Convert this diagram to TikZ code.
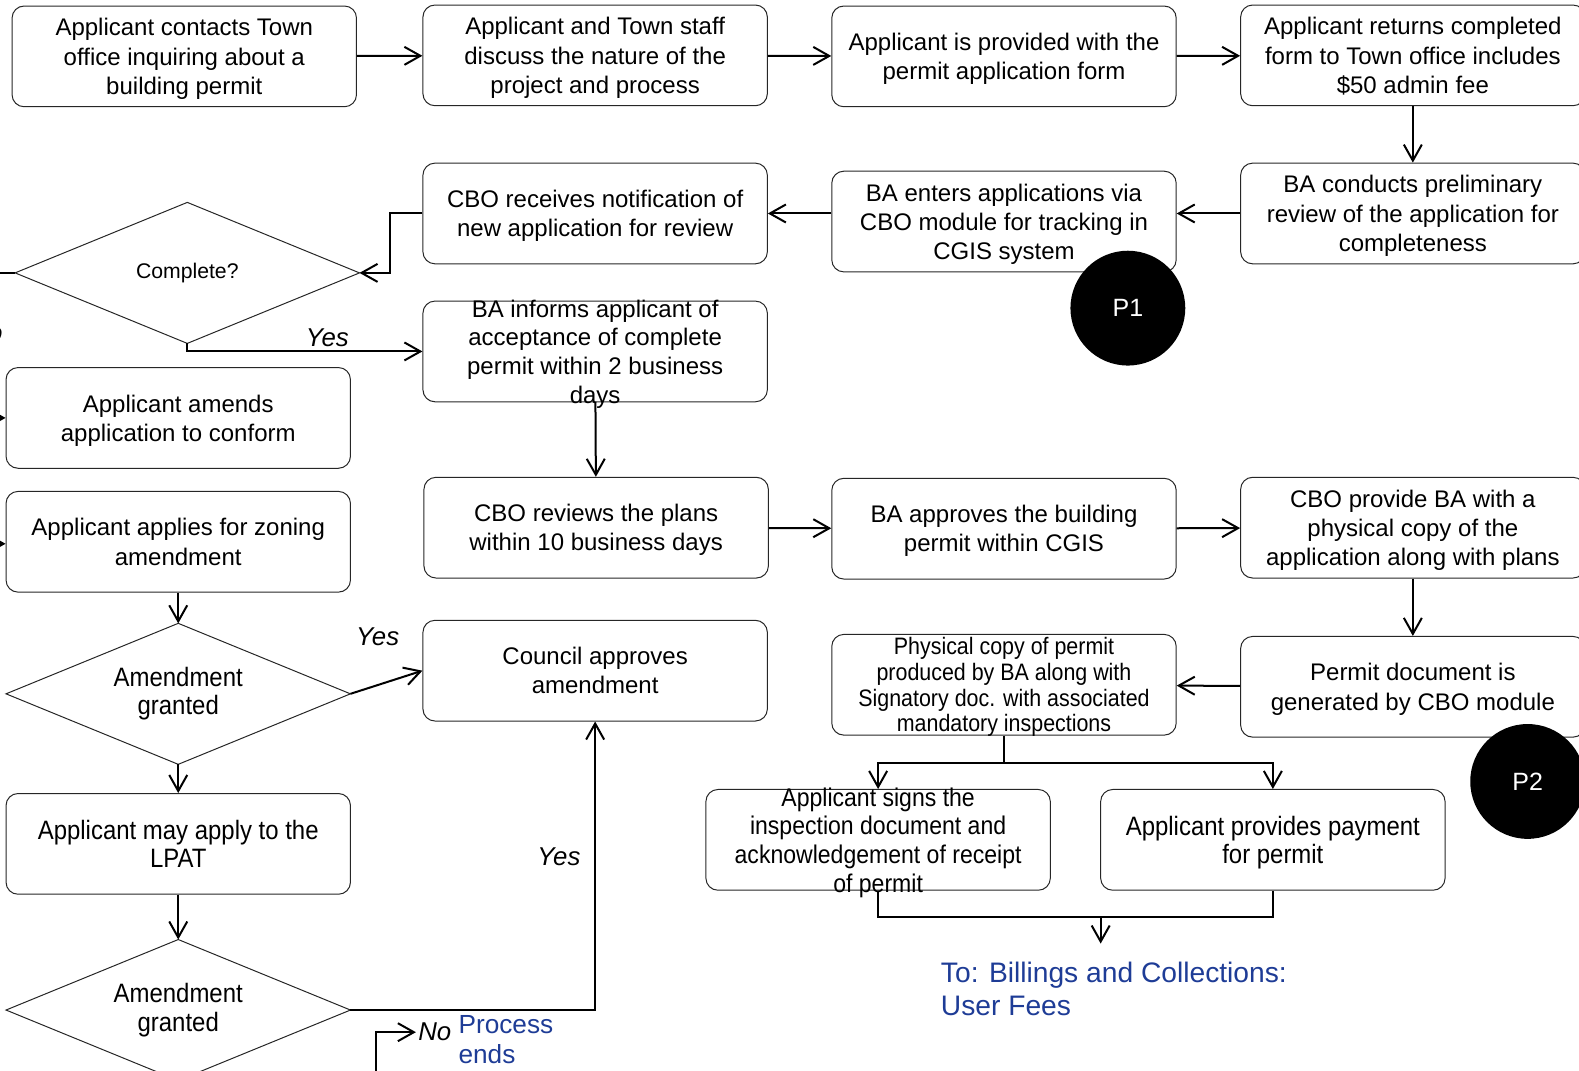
\documentclass[tikz,border=0pt]{standalone}
\usepackage{fontspec}
\setmainfont{Liberation Sans}
\newfontfamily\narrowfont[FakeStretch=0.9]{Liberation Sans}
\usetikzlibrary{shapes.geometric,arrows.meta}
\newcommand\boxfont{\fontsize{12}{14.6}\selectfont}
\newcommand\narrowsize{\narrowfont\fontsize{13.3}{14.1}\selectfont}
\definecolor{noteblue}{RGB}{30,60,150}
\begin{document}
\begin{tikzpicture}[
    x=.5035pt,y=-.5035pt,
    box/.style={draw=black!85,line width=.5pt,rounded corners=6pt,
      minimum width=172.2pt,minimum height=50.35pt,align=center,font=\boxfont,
      inner sep=2pt,text depth=-1pt},
    narrow/.style={font=\narrowsize},
    decision/.style={draw=black!85,line width=.5pt,diamond,aspect=2.44,
      minimum width=172.2pt,minimum height=70.5pt,inner sep=0pt,outer sep=0pt,
      align=center},
    flow/.style={black,line width=1pt,-{Straight Barb[length=8pt,width=9pt]}},
    plain flow/.style={black,line width=1pt},
    answer/.style={font=\itshape\fontsize{12.9}{14}\selectfont,inner sep=1pt},
    note/.style={text=noteblue,align=left,inner sep=0pt},
    marker/.style={circle,fill=black,text=white,minimum size=57.4pt,
      inner sep=0pt,font=\fontsize{12.5}{14}\selectfont}
  ]
    \useasboundingbox (0,0) rectangle (1568,1063);

    % First row: from the first enquiry to the returned form.
    \node[box] (contact)  at (183,56)  {Applicant contacts Town\\office inquiring about a\\building permit};
    \node[box] (discuss)  at (591,55)  {Applicant and Town staff\\discuss the nature of the\\project and process};
    \node[box] (provided) at (997,56)  {Applicant is provided with the\\permit application form};
    \node[box] (returns)  at (1403,55) {Applicant returns completed\\form to Town office includes\\\$50 admin fee};

    % Second row runs back to the left.
    \node[box] (review)   at (1403,212) {BA conducts preliminary\\review of the application for\\completeness};
    \node[box] (enters)   at (997,220)  {BA enters applications via\\CBO module for tracking in\\CGIS system};
    \node[box] (notify)   at (591,212)  {CBO receives notification of\\new application for review};
    \node[decision,font=\fontsize{10.6}{12}\selectfont] (complete) at (186,271) {Complete?};

    \node[box,inner ysep=-4pt,font=\fontsize{12}{14.3}\selectfont] (informs) at (591,349)
      {BA informs applicant of\\acceptance of complete\\permit within 2 business\\days};

    % Left column: the amendment branch.
    \node[box] (amends)   at (177,415) {Applicant amends\\application to conform};
    \node[box] (zoning)   at (177,538) {Applicant applies for zoning\\amendment};
    \node[decision,narrow] (granted) at (177,689) {Amendment\\granted};
    \node[box] (council)  at (591,666) {Council approves\\amendment};
    \node[box,narrow] (lpat) at (177,838) {Applicant may apply to the\\LPAT};
    \node[decision,narrow] (granted2) at (177,1003) {Amendment\\granted};

    % Review, approval and permit document.
    \node[box] (plans)     at (592,524)  {CBO reviews the plans\\within 10 business days};
    \node[box] (approves)  at (997,525)  {BA approves the building\\permit within CGIS};
    \node[box] (physical)  at (1403,524) {CBO provide BA with a\\physical copy of the\\application along with plans};
    \node[box] (generated) at (1403,682) {Permit document is\\generated by CBO module};
    \node[box,inner ysep=0pt,font=\narrowfont\fontsize{11.9}{12.8}\selectfont] (produced) at (997,680)
      {Physical copy of permit\\produced by BA along with\\Signatory doc. with associated\\mandatory inspections};
    \node[box,inner ysep=-4pt,font=\narrowfont\fontsize{12.8}{14.35}\selectfont] (signs) at (872,834)
      {Applicant signs the\\inspection document and\\acknowledgement of receipt\\of permit};
    \node[box,narrow] (payment) at (1264,834) {Applicant provides payment\\for permit};

    % Page markers.
    \node[marker] (p1) at (1120,306) {P1};
    \node[marker] (p2) at (1517,776) {P2};

    % Outcome texts.
    \node[note,anchor=west,font=\fontsize{14.1}{16.1}\selectfont] (billing) at (934,982)
      {To: Billings and Collections:\\User Fees};
    \node[answer,anchor=west] (no) at (413,1025) {No};
    \node[note,anchor=north west,font=\fontsize{13.1}{15.1}\selectfont] (ends) at (455,1008) {Process\\ends};
    \node[answer] (yes1) at (325,335) {Yes};
    \node[answer] (yes2) at (375,632) {Yes};
    \node[answer] (yes3) at (555,851) {Yes};
    \node[answer] (no1)  at (-14,330) {No};

    % Free ends beyond the left and lower edges.
    \coordinate (left out)  at (-30,271);
    \coordinate (amends in) at (-30,415);
    \coordinate (zoning in) at (-30,540);
    \coordinate (no foot)   at (373,1100);
    \coordinate (split)     at (997,758);
    \coordinate (merge)     at (1093,911);
    \coordinate (bill in)   at (1093,937);

    % Connectors.
    \draw[flow] (contact) -- (discuss);
    \draw[flow] (discuss) -- (provided);
    \draw[flow] (provided) -- (returns);
    \draw[flow] (returns) -- (review);
    \draw[flow] (review) -- (enters.east |- review.east);
    \draw[flow] (enters.west |- notify.east) -- (notify);
    \draw[flow] (notify.west) -- ++(-32,0) |- (complete.east);
    \draw[flow] (complete.south) |- (informs.west);
    \draw[plain flow] (complete.west) -- (left out);
    \draw[flow] (amends in) -- (amends.west);
    \draw[flow] (zoning in) -- (zoning.west |- zoning in);
    \draw[flow] (informs) -- (plans);
    \draw[flow] (plans) -- (approves);
    \draw[flow] (approves) -- (physical);
    \draw[flow] (physical) -- (generated);
    \draw[flow] (generated) -- (produced);
    \draw[plain flow] (produced) -- (split);
    \draw[flow] (split) -| (signs.north);
    \draw[flow] (split) -| (payment.north);
    \draw[plain flow] (signs.south) |- (merge) -| (payment.south);
    \draw[flow] (merge) -- (bill in);
    \draw[flow] (zoning) -- (granted);
    \draw[flow] (granted) -- (lpat);
    \draw[flow] (granted.east) -- (council.west);
    \draw[flow] (lpat) -- (granted2);
    \draw[flow] (granted2.east) -| (council.south);
    \draw[flow] (no foot) |- (no.west);
  \end{tikzpicture}
\end{document}
